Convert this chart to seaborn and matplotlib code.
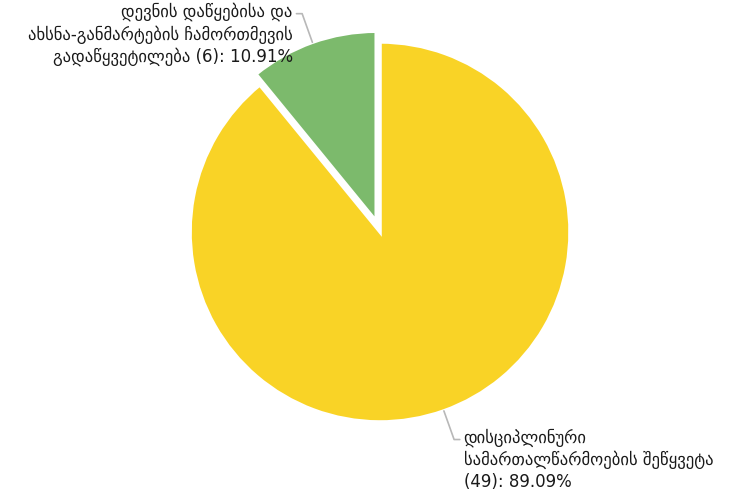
import numpy as np
import matplotlib
matplotlib.use('Agg')
import matplotlib.pyplot as plt
import seaborn as sns

labels = ['დევნის დაწყებისა და\nახსნა-განმარტების ჩამორთმევის\nგადაწყვეტილება',
          'დისციპლინური\nსამართალწარმოების შეწყვეტა']
counts = [6, 49]
colors = ['#7cba6c', '#f9d326']
explode = [0.06, 0.0]
# the count/percent part sits on the same line for the first label, on its own for the second
count_sep = [' ', '\n']

sns.set_theme(style='white')
plt.rcParams['font.family'] = ['DejaVu Sans']

fig = plt.figure(figsize=(7.39, 4.93), dpi=100)
ax = fig.add_axes([0, 0, 1, 1])

wedges, _ = ax.pie(counts, colors=colors, startangle=90, counterclock=True,
                   explode=explode, radius=1,
                   wedgeprops=dict(edgecolor='white', linewidth=2.5))

ax.set_xlim(-2.0, 1.889)
ax.set_ylim(-1.374, 1.221)
ax.set_aspect('equal')
ax.axis('off')

total = sum(counts)
line_col = '#b8b8b8'
for w, lab, c, ex, sep in zip(wedges, labels, counts, explode, count_sep):
    mid = np.deg2rad((w.theta1 + w.theta2) / 2)
    dx, dy = np.cos(mid), np.sin(mid)
    ox, oy = ex * dx, ex * dy
    edge = (ox + dx, oy + dy)
    elbow = (ox + 1.16 * dx, oy + 1.16 * dy)
    side = 1 if dx > 0 else -1
    end = (elbow[0] + side * 0.03, elbow[1])
    ax.plot([edge[0], elbow[0], end[0]], [edge[1], elbow[1], end[1]],
            color=line_col, lw=1.2)
    txt = f'{lab}{sep}({c}): {c / total * 100:.2f}%'
    ax.text(end[0] + side * 0.02, elbow[1] + 0.06, txt,
            ha='left' if side > 0 else 'right', va='top',
            fontsize=12, color='#1a1a1a', linespacing=1.3,
            multialignment='left' if side > 0 else 'right')

plt.savefig('out.png', dpi=100)
